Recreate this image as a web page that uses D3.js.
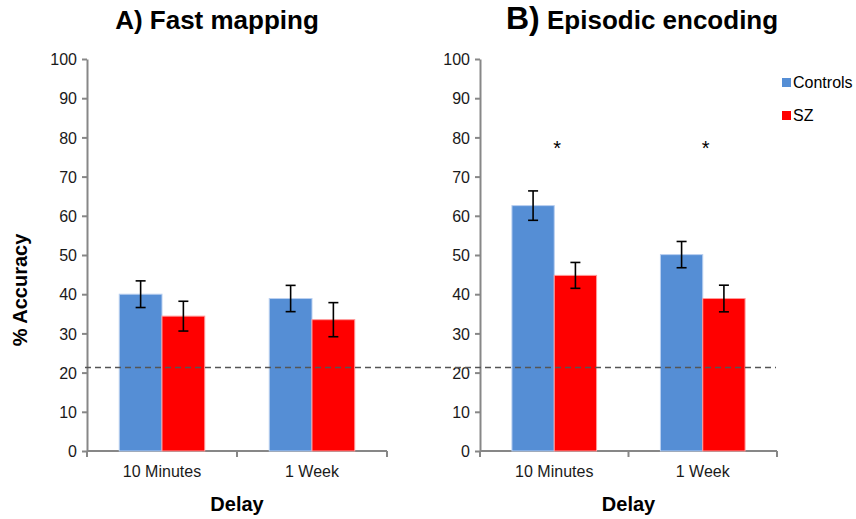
<!DOCTYPE html>
<html>
<head>
<meta charset="utf-8">
<script src="https://cdn.jsdelivr.net/npm/d3@7"></script>
<style>
  body { margin: 0; background: #fff; }
  svg { font-family: Arial, "Liberation Sans", sans-serif; }
  .axis path, .axis line { stroke: #878787; stroke-width: 2px; }
  .axis text { font-family: Arial, "Liberation Sans", sans-serif; font-size: 16px; fill: #1a1a1a; }
</style>
</head>
<body>
<svg id="chart" width="856" height="519"></svg>
<script>
// data
const delays = ['10 Minutes', '1 Week'];
const groups = ['Controls', 'SZ'];
const yTicks = [0, 10, 20, 30, 40, 50, 60, 70, 80, 90, 100];
const chance = 21.3;

const fastMean = [[40.0, 34.4], [38.9, 33.5]];
const fastErr = [[3.4, 3.8], [3.35, 4.35]];
const episodicMean = [[62.6, 44.8], [50.1, 38.9]];
const episodicErr = [[3.75, 3.3], [3.35, 3.4]];
const episodicStars = ['*', '*'];

const colors = { Controls: '#558ed5', SZ: '#ff0000' };
const edge = { Controls: '#b9cff0', SZ: '#ff9a9a' };

const svg = d3.select('#chart');
const y = d3.scaleLinear().domain([0, 100]).range([451, 59]);

function panel(x0, x1, means, errs, stars) {
  const g = svg.append('g');

  const x = d3.scaleBand().domain(delays).range([x0, x1])
    .paddingInner(0.43).paddingOuter(0.215);
  const xs = d3.scaleBand().domain(groups).range([0, x.bandwidth()]);

  // y axis
  g.append('g')
    .attr('class', 'axis')
    .attr('transform', `translate(${x0},0)`)
    .call(d3.axisLeft(y).tickValues(yTicks).tickSizeInner(5).tickSizeOuter(0).tickPadding(5))
    .call(a => a.attr('font-family', null).attr('font-size', null))
    .call(a => a.selectAll('text').attr('dy', '0.36em'));

  // x axis line + boundary ticks
  const ax = g.append('g').attr('class', 'axis');
  ax.append('line').attr('x1', x0).attr('x2', x1).attr('y1', y(0)).attr('y2', y(0));
  const bounds = [x0, x0 + (x1 - x0) / 2, x1];
  ax.selectAll('line.tk').data(bounds).enter().append('line')
    .attr('class', 'tk')
    .attr('x1', d => d).attr('x2', d => d)
    .attr('y1', y(0)).attr('y2', y(0) + 6);
  ax.selectAll('text').data(delays).enter().append('text')
    .attr('x', d => x(d) + x.bandwidth() / 2)
    .attr('y', 477)
    .attr('text-anchor', 'middle')
    .text(d => d);

  // bars
  const rows = [];
  delays.forEach((d, i) => groups.forEach((s, j) => {
    rows.push({ delay: d, group: s, mean: means[i][j], err: errs[i][j] });
  }));

  g.selectAll('rect.bar').data(rows).enter().append('rect')
    .attr('class', 'bar')
    .attr('x', d => x(d.delay) + xs(d.group))
    .attr('y', d => y(d.mean))
    .attr('width', xs.bandwidth())
    .attr('height', d => y(0) - y(d.mean))
    .attr('fill', d => colors[d.group])
    .attr('stroke', d => edge[d.group])
    .attr('stroke-width', 1);

  // error bars
  const eb = g.selectAll('g.err').data(rows).enter().append('g')
    .attr('class', 'err')
    .attr('stroke', '#000')
    .attr('stroke-width', 1.6);
  const cx = d => x(d.delay) + xs(d.group) + xs.bandwidth() / 2;
  eb.append('line')
    .attr('x1', cx).attr('x2', cx)
    .attr('y1', d => y(d.mean + d.err)).attr('y2', d => y(d.mean - d.err));
  eb.append('line')
    .attr('x1', d => cx(d) - 5).attr('x2', d => cx(d) + 5)
    .attr('y1', d => y(d.mean + d.err)).attr('y2', d => y(d.mean + d.err));
  eb.append('line')
    .attr('x1', d => cx(d) - 5).attr('x2', d => cx(d) + 5)
    .attr('y1', d => y(d.mean - d.err)).attr('y2', d => y(d.mean - d.err));

  if (stars) {
    g.selectAll('text.star').data(delays).enter().append('text')
      .attr('class', 'star')
      .attr('x', d => x(d) + x.bandwidth() / 2 + 3)
      .attr('y', y(75.5))
      .attr('text-anchor', 'middle')
      .style('font-size', '20px')
      .text((d, i) => stars[i]);
  }

  // x title
  g.append('text')
    .attr('x', (x0 + x1) / 2)
    .attr('y', 511)
    .attr('text-anchor', 'middle')
    .style('font-size', '20px')
    .style('font-weight', 'bold')
    .text('Delay');

  return g;
}

panel(87, 387, fastMean, fastErr, null);
panel(480, 777, episodicMean, episodicErr, episodicStars);

// titles
svg.append('text')
  .attr('x', 217).attr('y', 29)
  .attr('text-anchor', 'middle')
  .style('font-size', '26px').style('font-weight', 'bold')
  .text('A) Fast mapping');

const tB = svg.append('text')
  .attr('x', 506).attr('y', 29)
  .style('font-weight', 'bold');
tB.append('tspan').style('font-size', '32px').text('B)');
tB.append('tspan').style('font-size', '26px').text(' Episodic encoding');

// y title
svg.append('text')
  .attr('transform', 'translate(27,290) rotate(-90)')
  .attr('text-anchor', 'middle')
  .style('font-size', '20px').style('font-weight', 'bold')
  .text('% Accuracy');

// chance line across both panels
svg.append('line')
  .attr('x1', 85).attr('x2', 776)
  .attr('y1', y(chance)).attr('y2', y(chance))
  .attr('stroke', '#555')
  .attr('stroke-width', 1.3)
  .attr('stroke-dasharray', '6,4');

// legend
const leg = svg.append('g');
leg.selectAll('rect').data(groups).enter().append('rect')
  .attr('x', 782).attr('y', (d, i) => 78 + i * 33)
  .attr('width', 9).attr('height', 9)
  .attr('fill', d => colors[d]);
leg.selectAll('text').data(groups).enter().append('text')
  .attr('x', 793).attr('y', (d, i) => 88 + i * 33)
  .style('font-size', '16px')
  .text(d => d);
</script>
</body>
</html>
